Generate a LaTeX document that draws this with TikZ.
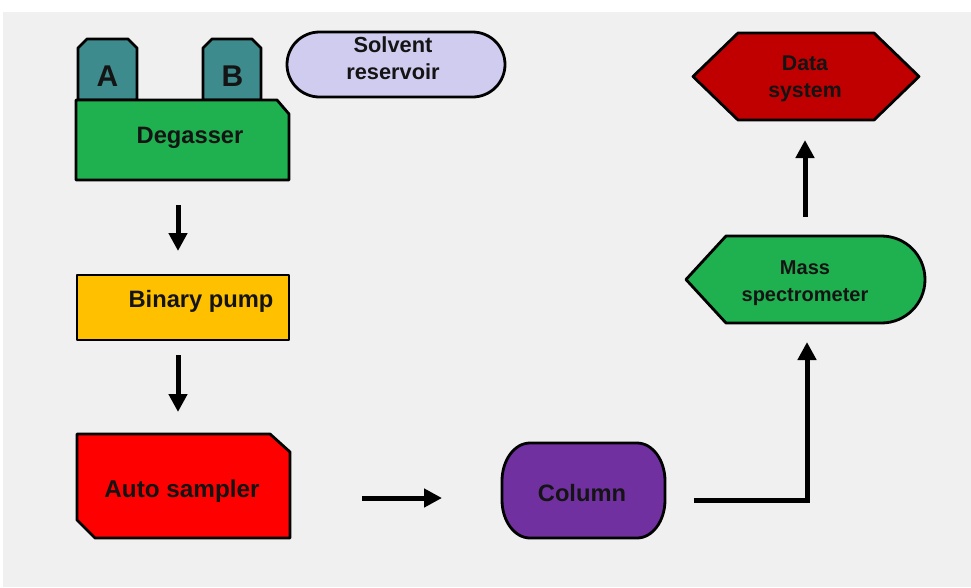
\documentclass[tikz,border=0pt]{standalone}
\usepackage{fontspec}
\setmainfont{Liberation Sans}
\usetikzlibrary{arrows.meta}
\definecolor{bggray}{HTML}{F0F0F0}
\definecolor{tankteal}{HTML}{3E8B8E}
\definecolor{boxgreen}{HTML}{1FB050}
\definecolor{lavender}{HTML}{D0CCF0}
\definecolor{datared}{HTML}{C00000}
\definecolor{pumpyellow}{HTML}{FFC000}
\definecolor{samplered}{HTML}{FF0000}
\definecolor{colpurple}{HTML}{7030A0}
\definecolor{inkdark}{HTML}{141414}
\tikzset{
  frame/.style={inner sep=0pt, outer sep=0pt, draw=none},
  outline/.style={draw=black, line width=2.8pt, line join=round},
  lbl/.style={inner sep=0pt, align=center, text=inkdark, font=\bfseries\fontsize{#1}{27}\selectfont},
  lbl/.default=23.7,
  flow/.style={draw=black, line width=5pt, -{Triangle[width=18pt,length=18pt]}},
}
\begin{document}
\begin{tikzpicture}[x=1pt, y=-1pt]
  \useasboundingbox (0,0) rectangle (971,587);
  \fill[white] (0,0) rectangle (971,587);
  \fill[bggray] (3,12) rectangle (971,587);

  % frames that carry the names and sizes of the units
  \node[frame, minimum width=59pt, minimum height=61pt] (tankA) at (107.5,69.5) {};
  \node[frame, minimum width=58pt, minimum height=61pt] (tankB) at (232,69.5) {};
  \node[frame, minimum width=213pt, minimum height=80pt] (deg) at (182.5,140) {};
  \node[frame, minimum width=218pt, minimum height=65pt] (solv) at (396,64.5) {};
  \node[frame, minimum width=212pt, minimum height=65pt] (pump) at (183,307.5) {};
  \node[frame, minimum width=213pt, minimum height=104pt] (samp) at (183.5,486) {};
  \node[frame, minimum width=163pt, minimum height=95pt] (col) at (583.5,490.5) {};
  \node[frame, minimum width=239pt, minimum height=87pt] (ms) at (805.5,279.5) {};
  \node[frame, minimum width=226pt, minimum height=87pt] (data) at (806,76.5) {};

  % solvent bottles A and B
  \foreach \t in {tankA,tankB}{
    \draw[outline, fill=tankteal]
      (\t.south west) -- ([yshift=-9pt]\t.north west) -- ([xshift=9pt]\t.north west)
      -- ([xshift=-9pt]\t.north east) -- ([yshift=-9pt]\t.north east) -- (\t.south east) -- cycle;
  }
  % degasser
  \draw[outline, fill=boxgreen]
    (deg.north west) -- ([xshift=-12pt]deg.north east) -- ([yshift=-14pt]deg.north east)
    -- (deg.south east) -- (deg.south west) -- cycle;
  % solvent reservoir
  \draw[outline, fill=lavender, rounded corners=32.5pt]
    (solv.north west) rectangle (solv.south east);
  % binary pump
  \draw[outline, fill=pumpyellow] (pump.north west) rectangle (pump.south east);
  % auto sampler
  \draw[outline, fill=samplered]
    (samp.north west) -- ([xshift=-20pt]samp.north east) -- ([yshift=-18pt]samp.north east)
    -- (samp.south east) -- ([xshift=18pt]samp.south west) -- ([yshift=18pt]samp.south west) -- cycle;
  % column
  \draw[outline, fill=colpurple]
    ([xshift=28pt]col.north west) -- ([xshift=-28pt]col.north east)
    arc[start angle=90, end angle=0, x radius=28pt, y radius=38pt]
    -- ([yshift=38pt]col.south east)
    arc[start angle=0, end angle=-90, x radius=28pt, y radius=38pt]
    -- ([xshift=28pt]col.south west)
    arc[start angle=270, end angle=180, x radius=28pt, y radius=38pt]
    -- ([yshift=-38pt]col.north west)
    arc[start angle=180, end angle=90, x radius=28pt, y radius=38pt] -- cycle;
  % mass spectrometer
  \draw[outline, fill=boxgreen]
    (ms.west) -- ([xshift=40pt]ms.north west) -- ([xshift=-43.5pt]ms.north east)
    arc[start angle=90, end angle=-90, radius=43.5pt]
    -- ([xshift=40pt]ms.south west) -- cycle;
  % data system
  \draw[outline, fill=datared]
    (data.west) -- ([xshift=45pt]data.north west) -- ([xshift=-45pt]data.north east)
    -- (data.east) -- ([xshift=-45pt]data.south east) -- ([xshift=45pt]data.south west) -- cycle;

  % labels
  \node[lbl=30] (tankA-t) at (107.5,76) {A};
  \node[lbl=30] (tankB-t) at (232.5,76) {B};
  \node[lbl] (deg-t) at (190,138) {Degasser};
  \node[lbl=21.8] (solv-t) at (393,58.5) {Solvent\\reservoir};
  \node[lbl] (pump-t) at (201,301) {Binary pump};
  \node[lbl=24.3] (samp-t) at (182,491) {Auto sampler};
  \node[lbl] (col-t) at (582,493.5) {Column};
  \node[lbl=20] (ms-t) at (805,283.5) {Mass\\spectrometer};
  \node[lbl=21.3] (data-t) at (805,78.5) {Data\\system};

  % flow connectors
  \draw[flow, shorten <=25pt, shorten >=24pt] (deg.south -| 178,0) -- (pump.north -| 178,0);
  \draw[flow, shorten <=15pt, shorten >=22pt] (pump.south -| 178,0) -- (samp.north -| 178,0);
  \draw[flow, shorten <=72pt, shorten >=60pt] (samp.east |- 0,498) -- (col.west |- 0,498);
  \draw[flow, line join=miter, shorten <=29pt, shorten >=19pt]
    (col.east |- 0,500) -| (ms.south -| 807,0);
  \draw[flow, shorten <=19pt, shorten >=20pt] (ms.north -| 805,0) -- (data.south -| 805,0);
\end{tikzpicture}
\end{document}
